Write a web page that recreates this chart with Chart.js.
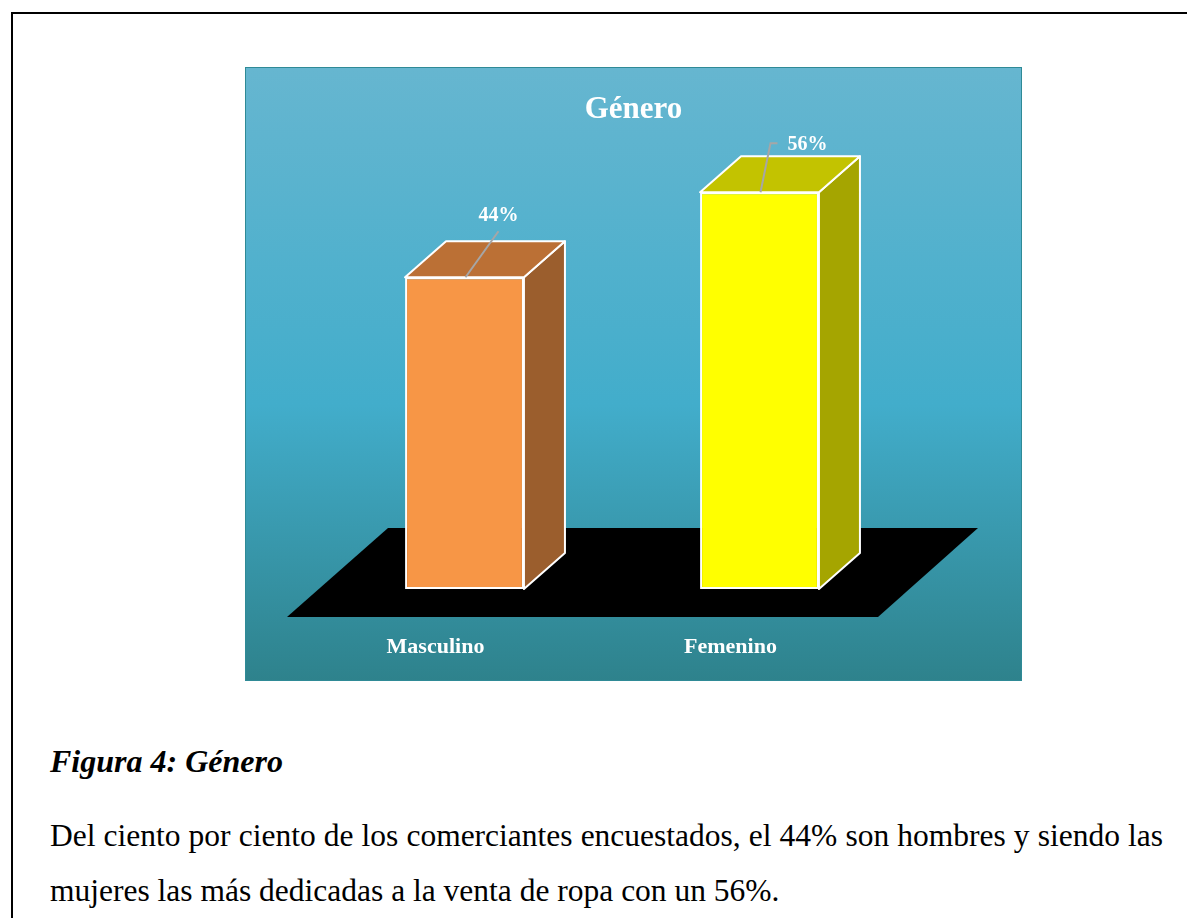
<!DOCTYPE html>
<html>
<head>
<meta charset="utf-8">
<script src="https://cdn.jsdelivr.net/npm/chart.js@4.4.0/dist/chart.umd.min.js"></script>
<style>
  body { margin: 0; background: #fff; width: 1187px; height: 918px; overflow: hidden; position: relative; }
  .frame { position: absolute; left: 11px; top: 12px; right: -5px; bottom: -5px; border-top: 2px solid #000; border-left: 2px solid #000; }
  #chartBox { position: absolute; left: 245px; top: 67px; width: 777px; height: 614px; }
  .caption { position: absolute; left: 50px; top: 741px; font: italic bold 32px/40px "Liberation Serif", "Times New Roman", serif; color: #000; }
  .para { position: absolute; left: 50px; top: 808px; width: 1113px; font: 31.5px/55px "Liberation Serif", "Times New Roman", serif; color: #000; text-align: justify; }
</style>
</head>
<body>
<div class="frame"></div>
<div id="chartBox"><canvas id="generoChart" width="777" height="614"></canvas></div>
<div class="caption">Figura 4: Género</div>
<div class="para">Del ciento por ciento de los comerciantes encuestados, el 44% son hombres y siendo las mujeres las más dedicadas a la venta de ropa con un 56%.</div>

<script>
const categories = ['Masculino', 'Femenino'];
const percentages = [44, 56];
const frontColors = ['#f79646', '#ffff00'];
const topColors = ['#bb7035', '#c3c300'];
const sideColors = ['#9b5e2d', '#a5a500'];
const chartTitle = 'Género';

// depth of the fake 3d boxes
const DX = 41, DY = -36;
// where the % labels sit, relative to the front top centre of each bar
const labelOffsets = [[34, -61], [48, -47]];

const serif = '"Liberation Serif", "Times New Roman", serif';

const gradientBg = {
    id: 'gradientBg',
    beforeDraw(chart) {
        const ctx = chart.ctx;
        const h = chart.height, w = chart.width;
        const g = ctx.createLinearGradient(0, 0, 0, h);
        g.addColorStop(0, '#66b6d0');
        g.addColorStop(0.55, '#42adcb');
        g.addColorStop(1, '#2e828c');
        ctx.save();
        ctx.fillStyle = g;
        ctx.fillRect(0, 0, w, h);
        ctx.strokeStyle = '#2f8a96';
        ctx.lineWidth = 1;
        ctx.strokeRect(0.5, 0.5, w - 1, h - 1);
        ctx.restore();
    }
};

const floor3d = {
    id: 'floor3d',
    beforeDatasetsDraw(chart) {
        const ctx = chart.ctx;
        const a = chart.chartArea;
        const base = chart.scales.y.getPixelForValue(0);
        ctx.save();
        ctx.fillStyle = '#000';
        ctx.beginPath();
        ctx.moveTo(a.left - 30, base + 28);
        ctx.lineTo(a.right - 29, base + 28);
        ctx.lineTo(a.right + 71, base - 61);
        ctx.lineTo(a.left + 71, base - 61);
        ctx.closePath();
        ctx.fill();
        ctx.restore();
    }
};

const boxes3d = {
    id: 'boxes3d',
    afterDatasetsDraw(chart) {
        const ctx = chart.ctx;
        const meta = chart.getDatasetMeta(0);
        ctx.save();
        ctx.strokeStyle = '#ffffff';
        ctx.lineWidth = 2;
        ctx.lineJoin = 'round';
        meta.data.forEach((bar, i) => {
            const l = bar.x - bar.width / 2, r = bar.x + bar.width / 2;
            const t = bar.y, b = bar.base;
            // side face
            ctx.fillStyle = sideColors[i];
            ctx.beginPath();
            ctx.moveTo(r, t);
            ctx.lineTo(r + DX, t + DY);
            ctx.lineTo(r + DX, b + DY);
            ctx.lineTo(r, b);
            ctx.closePath();
            ctx.fill();
            ctx.stroke();
            // top face
            ctx.fillStyle = topColors[i];
            ctx.beginPath();
            ctx.moveTo(l, t);
            ctx.lineTo(r, t);
            ctx.lineTo(r + DX, t + DY);
            ctx.lineTo(l + DX, t + DY);
            ctx.closePath();
            ctx.fill();
            ctx.stroke();
        });
        ctx.restore();
    }
};

const textLayer = {
    id: 'textLayer',
    afterDraw(chart) {
        const ctx = chart.ctx;
        const meta = chart.getDatasetMeta(0);
        const base = chart.scales.y.getPixelForValue(0);
        ctx.save();
        // title
        ctx.fillStyle = '#ffffff';
        ctx.textAlign = 'center';
        ctx.textBaseline = 'middle';
        ctx.font = 'bold 31px ' + serif;
        ctx.fillText(chartTitle, chart.width / 2, 43);

        meta.data.forEach((bar, i) => {
            const [ox, oy] = labelOffsets[i];
            // leader line
            ctx.strokeStyle = '#a6a6a6';
            ctx.lineWidth = 2;
            ctx.beginPath();
            if (i === 0) {
                ctx.moveTo(bar.x + 1, bar.y);
                ctx.lineTo(bar.x + ox, bar.y + oy + 15);
            } else {
                ctx.moveTo(bar.x + 1, bar.y);
                ctx.lineTo(bar.x + 11, bar.y + oy - 2);
                ctx.lineTo(bar.x + 18, bar.y + oy - 2);
            }
            ctx.stroke();
            ctx.fillStyle = '#ffffff';
            ctx.font = 'bold 20px ' + serif;
            ctx.fillText(percentages[i] + '%', bar.x + ox, bar.y + oy);

            // category label, shifted for the perspective
            ctx.font = 'bold 22px ' + serif;
            ctx.fillText(categories[i], bar.x - 29, base + 58);
        });
        ctx.restore();
    }
};

new Chart(document.getElementById('generoChart').getContext('2d'), {
    type: 'bar',
    data: {
        labels: categories,
        datasets: [{
            data: percentages,
            backgroundColor: frontColors,
            borderColor: '#ffffff',
            borderWidth: 2,
            borderSkipped: false,
            barPercentage: 0.403,
            categoryPercentage: 1
        }]
    },
    options: {
        responsive: false,
        animation: false,
        layout: { padding: { left: 72, right: 115, top: 26, bottom: 92 } },
        scales: {
            x: { display: false },
            y: { display: false, min: 0, max: 70 }
        },
        plugins: {
            legend: { display: false },
            title: { display: false },
            tooltip: { enabled: false }
        }
    },
    plugins: [gradientBg, floor3d, boxes3d, textLayer]
});
</script>
</body>
</html>
